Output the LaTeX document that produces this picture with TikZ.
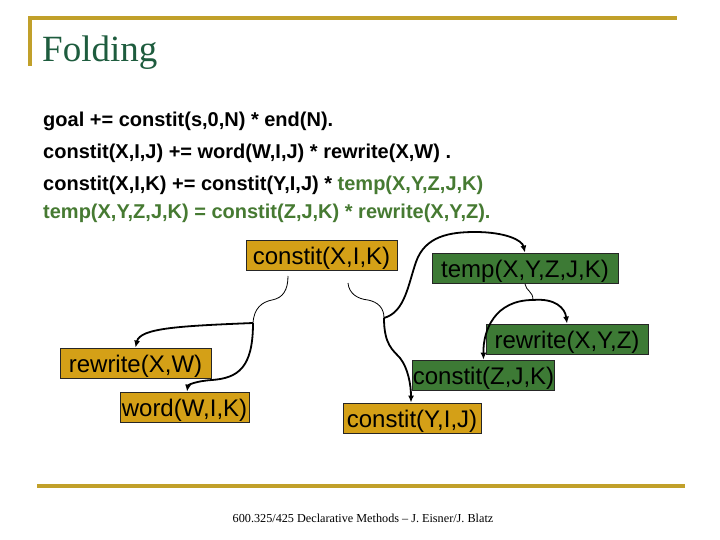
\documentclass[tikz,border=0pt]{standalone}
\usepackage{fontspec}
\setmainfont{Liberation Serif}
\newfontfamily\arialf{Liberation Sans}
\usetikzlibrary{arrows.meta}
\definecolor{gold}{RGB}{193,160,42}
\definecolor{boxorange}{RGB}{212,160,23}
\definecolor{boxgreen}{RGB}{61,122,53}
\definecolor{textgreen}{RGB}{70,122,50}
\definecolor{titlegreen}{RGB}{30,92,62}
\tikzset{
  box/.style={draw=black!85, line width=0.8bp, inner sep=0pt, minimum height=30bp,
    text height=21bp, text depth=2bp,
    font=\arialf\fontsize{24bp}{28bp}\selectfont, text=black},
  obox/.style={box, fill=boxorange},
  gbox/.style={box, fill=boxgreen},
  bodyline/.style={anchor=base west, inner sep=0pt, font=\arialf\bfseries\fontsize{20bp}{24bp}\selectfont},
  bracel/.style={line width=0.8bp},
  link/.style={line width=1.8bp, -{Latex[length=7bp,width=6bp]}},
  rulel/.style={draw=gold, line width=3.5bp}
}
\begin{document}
\begin{tikzpicture}[x=1bp,y=-1bp]
\useasboundingbox (0,0) rectangle (720,540);
% slide rules
\draw[rulel] (30,16.5) -- (30,66);
\draw[rulel] (28.25,18) -- (677,18);
\draw[rulel] (37,486) -- (685,486);
% title
\node[anchor=base west, inner sep=0pt, text=titlegreen, font=\fontsize{37bp}{40bp}\selectfont] (title) at (42,62) {Folding};
% rules text
\node[bodyline] (l1) at (43,127) {goal += constit(s,0,N) * end(N).};
\node[bodyline] (l2) at (43,159) {constit(X,I,J) += word(W,I,J) * rewrite(X,W) .};
\node[bodyline] (l3) at (43,191) {constit(X,I,K) += constit(Y,I,J) * \textcolor{textgreen}{temp(X,Y,Z,J,K)}};
\node[bodyline, text=textgreen] (l4) at (43,219) {temp(X,Y,Z,J,K) = constit(Z,J,K) * rewrite(X,Y,Z).};
% boxes
\node[obox, minimum width=151bp] (cxik) at (321.5,255) {constit(X,I,K)};
\node[gbox, minimum width=186bp] (temp) at (525,268) {temp(X,Y,Z,J,K)};
\node[gbox, minimum width=162bp] (rxyz) at (567,339) {rewrite(X,Y,Z)};
\node[gbox, minimum width=139bp] (czjk) at (483.5,375) {constit(Z,J,K)};
\node[obox, minimum width=138bp] (cyij) at (412,418) {constit(Y,I,J)};
\node[obox, minimum width=151bp] (rxw) at (135.5,363) {rewrite(X,W)};
\node[obox, minimum width=129bp] (wwik) at (184.5,407) {word(W,I,K)};
% brace starts and junctions
\coordinate (b1) at (288,276);
\coordinate (b2) at (348,283);
\coordinate (b3) at (525,284);
\coordinate (j1) at (253,323);
\coordinate (j2) at (384,318);
\coordinate (j3) at (533,300);
% thin braces
\draw[bracel] (b1) .. controls (288,290) and (283,298) .. (272,300) .. controls (262,302) and (254,308) .. (j1);
\draw[bracel] (b2) .. controls (349,294) and (358,299) .. (368,300) .. controls (378,302) and (384,308) .. (j2);
\draw[bracel] (b3) .. controls (526,291) and (533,291) .. (j3);
% thick connectors
\draw[link] (j1) .. controls (180,326) and (140,328) .. (rxw.north);
\draw[link] (j1) .. controls (253,368) and (238,378) .. (212,380) .. controls (196,381) and (188,385) .. ([xshift=2.5bp]wwik.north);
\draw[link] (j2) .. controls (405,312) and (408,285) .. (416,262) .. controls (425,236) and (450,232) .. (475,232) .. controls (505,232) and (522,240) .. (temp.north);
\draw[link] (j2) .. controls (384,345) and (393,350) .. (400,358) .. controls (408,368) and (411,385) .. ([xshift=-1bp]cyij.north);
\draw[link] (j3) .. controls (555,298) and (565,308) .. (rxyz.north);
\draw[link] (j3) .. controls (495,300) and (483,330) .. (czjk.north);
% footer
\node[anchor=base, inner sep=0pt, font=\fontsize{12.2bp}{14bp}\selectfont] (foot) at (363,522) {600.325/425 Declarative Methods – J. Eisner/J. Blatz};
\end{tikzpicture}
\end{document}
